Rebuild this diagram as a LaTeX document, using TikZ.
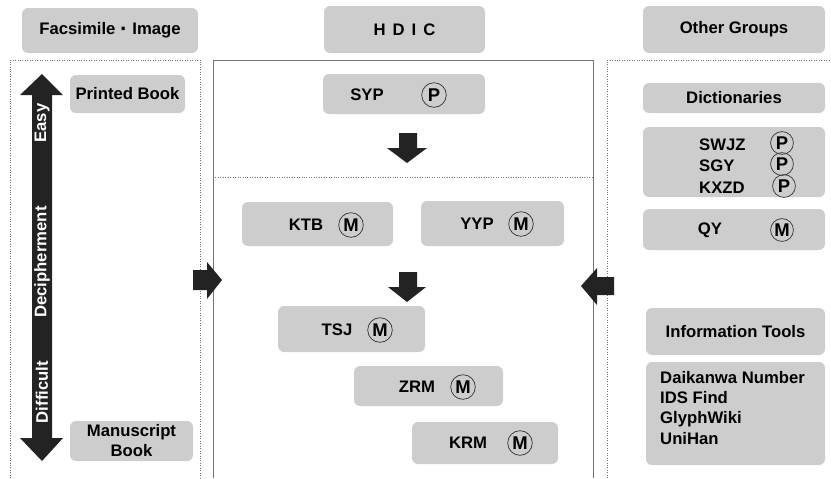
\documentclass[tikz,border=0pt]{standalone}
\usepackage{fontspec}
\setmainfont{Liberation Sans}
\usetikzlibrary{positioning}
\definecolor{boxgray}{HTML}{CDCDCD}
\definecolor{arrowdark}{HTML}{232323}
\begin{document}
\begin{tikzpicture}[x=0.02cm,y=-0.02cm,
	every node/.style={font=\fontsize{9.5}{11.4}\selectfont\bfseries},
	graybox/.style={fill=boxgray,rounded corners=3.5pt},
	circmark/.style={draw=black!80,circle,thin,inner sep=0pt,minimum size=14pt,
		font=\fontsize{10.5}{12}\selectfont\bfseries},
	smallmark/.style={circmark,minimum size=13pt},
	panel/.style={draw=black!55,densely dotted,thin},
	fatarrow/.style={fill=arrowdark}]
		\useasboundingbox (0,0) rectangle (831,478);
		
		% panels
		\draw[panel] (10,478) -- (10,60) -- (200,60) -- (200,478);
		\draw[black!55,thin] (213,478) -- (213,60) -- (593,60) -- (593,478);
		\draw[panel] (213,177) -- (593,177);
		\draw[panel] (607,478) -- (607,60) -- (831,60);
		
		% headers
		\path[graybox] (22,8) rectangle (198,53) node[pos=.5] (facs) {Facsimile \raisebox{-1pt}{\fontsize{13}{13}\selectfont·} Image};
		\path[graybox] (324,6) rectangle (485,53) node[pos=.5] (hdic) {\spaceskip=4pt H D I C};
		\path[graybox] (643,6) rectangle (825,53) node[pos=.5] (other) {Other Groups};
		
		% facsimile side
		\fill[fatarrow] (42,74) -- (63,95) -- (52,95) -- (52,438) -- (63,438) -- (42,461)
			-- (20,438) -- (32,438) -- (32,95) -- (20,95) -- cycle;
		\node[white,rotate=90] (easy) at (42,123) {Easy};
		\node[white,rotate=90] (deci) at (42,262) {Decipherment};
		\node[white,rotate=90] (diff) at (42,392) {Difficult};
		\path[graybox] (70,75) rectangle (185,113) node[pos=.5] (printed) {Printed Book};
		\path[graybox] (70,421) rectangle (193,461) node[pos=.5,align=center] (manu) {Manuscript\\Book};
		
		% HDIC
		\path[graybox] (323,74) rectangle (485,114);
		\node (syp) at (367,95) {SYP};
		\node[circmark] (sypmark) at (434,95) {P};
		\fill[fatarrow] (399,133) -- (417,133) -- (417,148) -- (427,148) -- (407,163)
			-- (387,148) -- (399,148) -- cycle;
		
		\path[graybox] (242,202) rectangle (393,246);
		\node (ktb) at (306,225) {KTB};
		\node[circmark] (ktbmark) at (351,225) {M};
		\path[graybox] (421,201) rectangle (564,246);
		\node (yyp) at (477,224) {YYP};
		\node[circmark] (yypmark) at (521,224) {M};
		\fill[fatarrow] (399,272) -- (417,272) -- (417,287) -- (426,287) -- (407,302)
			-- (388,287) -- (399,287) -- cycle;
		\path[graybox] (278,306) rectangle (425,352);
		\node (tsj) at (337,330) {TSJ};
		\node[circmark] (tsjmark) at (380,330) {M};
		\path[graybox] (354,366) rectangle (503,406);
		\node (zrm) at (417,387) {ZRM};
		\node[circmark] (zrmmark) at (463,387) {M};
		\path[graybox] (412,422) rectangle (558,464);
		\node (krm) at (468,443) {KRM};
		\node[circmark] (krmmark) at (520,443) {M};
		
		% side arrows
		\fill[fatarrow] (193,270) -- (207,270) -- (207,262) -- (222,280) -- (207,299)
			-- (207,290) -- (193,290) -- cycle;
		\fill[fatarrow] (614,277) -- (597,277) -- (597,268) -- (581,286) -- (597,305)
			-- (597,295) -- (614,295) -- cycle;
		
		% other groups
		\path[graybox] (643,83) rectangle (825,113) node[pos=.5] (dict) {Dictionaries};
		\path[graybox] (643,127) rectangle (825,197);
		\node[anchor=west] (swjz) at (693,145) {SWJZ};
		\node[anchor=west] (sgy) at (693,166) {SGY};
		\node[anchor=west] (kxzd) at (693,188) {KXZD};
		\node[smallmark] (swjzmark) at (782,143) {P};
		\node[smallmark] (sgymark) at (782,164) {P};
		\node[smallmark] (kxzdmark) at (784,186) {P};
		\path[graybox] (643,209) rectangle (825,250);
		\node (qy) at (710,230) {QY};
		\node[smallmark] (qymark) at (782,230) {M};
		
		\path[graybox] (646,308) rectangle (825,355) node[pos=.5] (tools) {Information Tools};
		\path[graybox] (646,362) rectangle (825,465);
		\node[anchor=west,align=left] (toollist) at (654,408) {Daikanwa Number\\IDS Find\\GlyphWiki\\UniHan};
		
\end{tikzpicture}
\end{document}
